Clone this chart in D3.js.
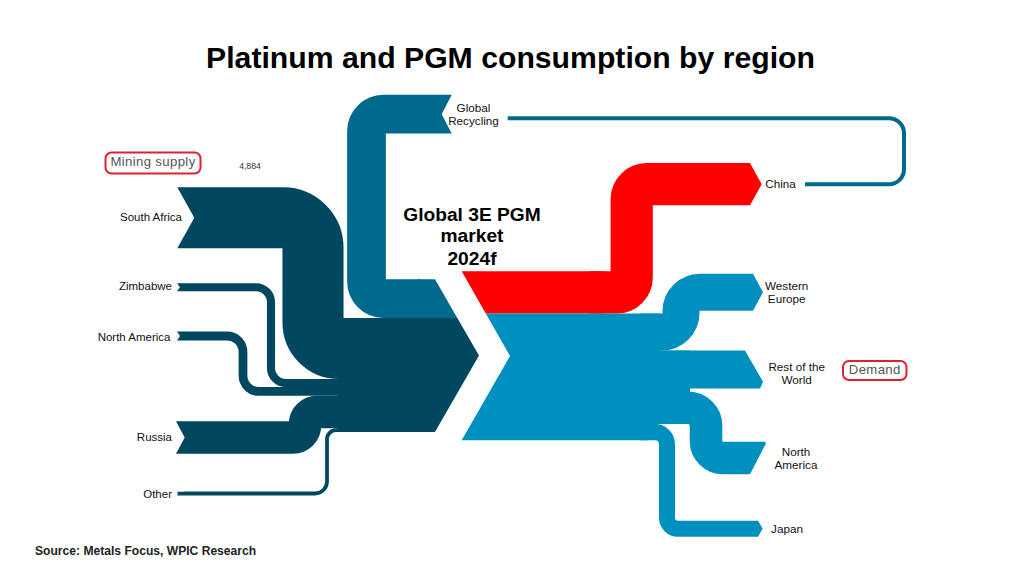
<!DOCTYPE html>
<html>
<head>
<meta charset="utf-8">
<script src="https://cdn.jsdelivr.net/npm/d3@7/dist/d3.min.js"></script>
<style>
html,body{margin:0;padding:0;background:#fff;}
svg{display:block;}
text{font-family:"Liberation Sans",Arial,sans-serif;fill:#111;}
</style>
</head>
<body>
<svg id="chart" width="1022" height="575"></svg>
<script>
// ---------- DATA (koz) ----------
const supplyNames  = ["Global Recycling","South Africa","Zimbabwe","North America","Russia","Other"];
const supplyValues = [3096,4884,650,700,2600,300];
const demandNames  = ["China","Western Europe","Rest of the World","North America","Japan"];
const demandValues = [3376,2960,3040,2608,1280];
const loopValue = 320;          // China -> Global Recycling feedback line
const chartTitle = "Platinum and PGM consumption by region";
const centreLines = ["Global 3E PGM","market","2024f"];
const supplyLabels = ["South Africa","Zimbabwe","North America","Russia","Other"];
const demandLabels = [["China"],["Western","Europe"],["Rest of the","World"],["North","America"],["Japan"]];
const recyclingLabel = ["Global","Recycling"];
const annotation = "4,884";
const source = "Source: Metals Focus, WPIC Research";

// ---------- SCALES ----------
const width = d3.scaleLinear([0, 12230], [0, 152.9]);
const colour = { supply:"#00475f", recycling:"#006a8e", china:"#ff0000", demand:"#0090c0" };

// layout of supply side
const supplyRowY  = d3.scaleOrdinal(supplyNames, [114.2,217.8,287.3,336,437.5,493.5]);
const supplyTurnX = d3.scaleOrdinal(supplyNames, [366.5,313,271,243,305,327]);
const supplyR1    = d3.scaleOrdinal(supplyNames, [17,30,15,16,12,12]);
const supplyR2    = d3.scaleOrdinal(supplyNames, [17,26,15,16,12,9]);
// cap: [inner x, edge x, apex x]
const supplyCap   = d3.scaleOrdinal(supplyNames, [[434,451.7,441.7],[198,177.3,194.3],[184,177,180],[184,177,180],[190,176,184.7],[184,177,178]]);
const supplyHubTop = 279.2;

// layout of demand side
const demandRowY  = d3.scaleOrdinal(demandNames, [184.2,292.2,null,458,528.7]);
const demandTurnX = d3.scaleOrdinal(demandNames, [631.7,681,null,706,667]);
const demandR1    = d3.scaleOrdinal(demandNames, [15,19,0,18,12]);
const demandR2    = d3.scaleOrdinal(demandNames, [15,19,0,17,11]);
const demandGap   = d3.scaleOrdinal(demandNames, [0,0,0,3,0]);
// cap: [inner x, top x, tip x, tip fraction, bottom x]
const demandCap   = d3.scaleOrdinal(demandNames, [
  [745,750,761.7,.5,750],[745,753,763,.5,753],[740,745,763,.82,760],[745,765,766,.05,750],[750,758,762.7,.5,758]]);
const demandHubTop = 271.3;

function stack(names, values, top, gap){
  let y = top; const out = {};
  names.forEach((n,i)=>{
    y += gap ? gap(n) : 0;
    const w = width(values[i]);
    out[n] = {w, y0:y, y1:y+w, yc:y+w/2};
    y += w;
  });
  return out;
}
const supplyStack = stack(supplyNames, supplyValues, supplyHubTop);
const demandStack = stack(demandNames, demandValues, demandHubTop, demandGap);

function route(pts, radii){
  const p = d3.path();
  p.moveTo(pts[0][0], pts[0][1]);
  for(let i=1;i<pts.length-1;i++){
    p.arcTo(pts[i][0],pts[i][1],pts[i+1][0],pts[i+1][1],radii[i-1]);
  }
  p.lineTo(pts[pts.length-1][0],pts[pts.length-1][1]);
  return p.toString();
}
const poly = d3.line();

const svg = d3.select("#chart");
const gMarks = svg.append("g");
const gText = svg.append("g");

function ribbon(d, w, col){
  gMarks.append("path").attr("d",d).attr("fill","none").attr("stroke",col).attr("stroke-width",w);
}
function shape(pts, col){
  gMarks.append("path").attr("d",poly(pts)+"Z").attr("fill",col);
}

// feedback line China -> recycling
ribbon(route([[805,184.2],[904,184.2],[904,118.3],[507.7,118.3]],[15,15]), width(loopValue), colour.recycling);

// ---------- SUPPLY ----------
const hubRight = {tipX:479, tipY:355.6, shoulderX:435};
const edgeX = y => hubRight.tipX - (hubRight.tipX-hubRight.shoulderX)*Math.abs(y-hubRight.tipY)/(hubRight.tipY-supplyHubTop);
supplyNames.forEach(n=>{
  const s = supplyStack[n], col = n==="Global Recycling"?colour.recycling:colour.supply;
  const y = supplyRowY(n), x = supplyTurnX(n), c = supplyCap(n);
  const end = n==="Global Recycling" ? 420 : 400;
  ribbon(route([[c[0],y],[x,y],[x,s.yc],[end,s.yc]],[supplyR1(n),supplyR2(n)]), s.w, col);
  const t=y-s.w/2,b=y+s.w/2;
  shape([[c[0],t],[c[1],t],[c[2],y],[c[1],b],[c[0],b]], col);
});
const rec = supplyStack["Global Recycling"];
shape([[418,rec.y0],[hubRight.shoulderX,rec.y0],[edgeX(rec.y1),rec.y1],[418,rec.y1]], colour.recycling);
const dTop = rec.y1, dBot = supplyStack["Other"].y1;
shape([[343,dTop],[edgeX(dTop),dTop],[hubRight.tipX,hubRight.tipY],[edgeX(dBot),dBot],[338,dBot],[338,supplyStack["Zimbabwe"].y0],[343,supplyStack["Zimbabwe"].y0]], colour.supply);

// ---------- DEMAND ----------
const notch = {apexX:510, apexY:356, leftX:461.7};
const notchX = y => notch.apexX - (notch.apexX-notch.leftX)*Math.abs(y-notch.apexY)/(notch.apexY-demandHubTop);
demandNames.forEach(n=>{
  const s = demandStack[n], col = n==="China"?colour.china:colour.demand;
  const c = demandCap(n);
  const hasTurn = demandTurnX(n)!==null;
  const y = hasTurn ? demandRowY(n) : s.yc;
  const start = n==="China"?590:640;
  if(hasTurn){
    const x = demandTurnX(n);
    ribbon(route([[start,s.yc],[x,s.yc],[x,y],[c[0],y]],[demandR1(n),demandR2(n)]), s.w, col);
  } else {
    ribbon(route([[start,y],[c[0],y]],[]), s.w, col);
  }
  const t=y-s.w/2,b=y+s.w/2;
  shape([[c[0],t],[c[1],t],[c[2],t+s.w*c[3]],[c[4],b],[c[0],b]], col);
});
const ch = demandStack["China"], we = demandStack["Western Europe"], na = demandStack["North America"], jp = demandStack["Japan"];
shape([[notch.leftX,ch.y0],[605,ch.y0],[605,ch.y1],[notchX(ch.y1),ch.y1]], colour.china);
shape([[notchX(we.y0),we.y0],[660,we.y0],[660,we.y1],[690,we.y1],[690,na.y1],[652,na.y1],[648,jp.y1],[notch.leftX,jp.y1],[notch.apexX,notch.apexY]], colour.demand);

// ---------- TEXT ----------
const label = (x,y,str,size,opts={}) => gText.append("text")
  .attr("x",x).attr("y",y).attr("dominant-baseline","central")
  .attr("text-anchor",opts.anchor||"middle").attr("font-size",size)
  .attr("font-weight",opts.weight||"normal").style("fill",opts.fill||"#111").text(str);

label(510.5,57,chartTitle,30.2,{weight:"bold",fill:"#000"});
const centreY = [214,235.5,258];
centreLines.forEach((t,i)=>label(472,centreY[i],t,19.2,{weight:"bold",fill:"#000"}));

const supplyLabelX = d3.scaleOrdinal(supplyLabels,[182,172,170.5,172,172]);
const supplyLabelY = d3.scaleOrdinal(supplyLabels,[217,286.3,336.5,436.5,493.5]);
supplyLabels.forEach(t=>label(supplyLabelX(t),supplyLabelY(t),t,11.5,{anchor:"end"}));

recyclingLabel.forEach((t,i)=>label(473.5,107+13*i,t,11.7));

const demandLabelX = d3.scaleOrdinal(demandLabels.map(d=>d[0]),[780.5,786.7,796.7,796,787]);
const demandLabelY = d3.scaleOrdinal(demandLabels.map(d=>d[0]),[183.5,285,366,451.5,528]);
demandLabels.forEach(lines=>lines.forEach((t,i)=>label(demandLabelX(lines[0]),demandLabelY(lines[0])+13*i,t,11.7)));

label(250,165.5,annotation,8.7,{fill:"#333"});

const badge = (x,y,w,h,str) => {
  gText.append("rect").attr("x",x).attr("y",y).attr("width",w).attr("height",h).attr("rx",6)
    .attr("fill","none").attr("stroke","#e0202e").attr("stroke-width",2);
  label(x+w/2,y+h/2-1.5,str,13.2,{fill:"#555"}).attr("letter-spacing",0.35);
};
badge(105.5,152.5,95,21,"Mining supply");
badge(843,361,63.5,19,"Demand");

label(35,551,source,12.1,{anchor:"start",weight:"bold",fill:"#222"});
</script>
</body>
</html>
